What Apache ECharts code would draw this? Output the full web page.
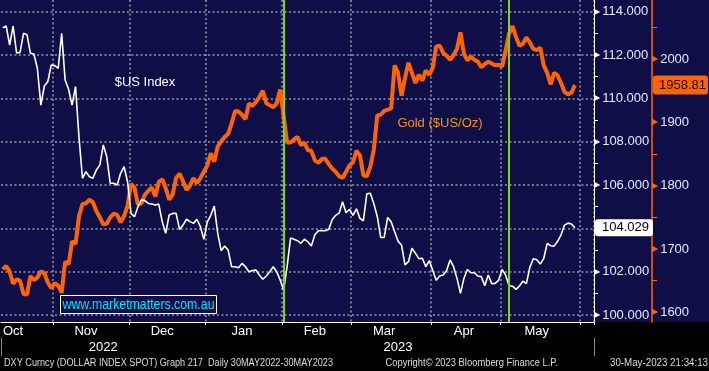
<!DOCTYPE html>
<html><head><meta charset="utf-8">
<script src="https://cdn.jsdelivr.net/npm/echarts@6/dist/echarts.min.js"></script>
<style>html,body{margin:0;padding:0;background:#000;overflow:hidden}#c{width:709px;height:371px}</style>
</head><body><div id="c"></div>
<script>
// ---- data ----
const dxyValues = [
113.26,113.34,112.46,113.34,112.10,112.12,113.00,112.94,112.08,112.05,
111.38,109.69,110.57,110.77,111.54,111.51,111.38,113.00,110.85,110.42,
109.69,110.54,108.20,106.31,106.62,106.38,106.31,106.69,106.92,107.85,
107.31,106.08,106.08,106.00,106.54,106.85,106.15,104.69,104.54,105.00,
105.31,105.28,105.15,105.12,105.08,105.12,104.30,103.77,104.62,104.69,
104.69,103.95,104.15,104.42,104.31,104.23,104.42,104.08,103.49,104.30,
104.60,105.03,103.77,102.97,103.18,103.00,102.23,102.23,102.18,102.38,
102.23,102.00,102.05,102.08,101.85,101.65,101.80,102.00,102.23,102.00,
101.62,101.15,102.23,103.55,103.50,103.43,103.31,103.50,103.38,103.18,
103.70,103.89,103.89,103.89,103.95,104.40,104.60,104.70,105.23,104.72,
104.88,104.60,104.90,104.46,104.35,105.60,105.62,105.15,104.55,103.58,
103.58,104.50,104.30,103.85,103.40,103.23,102.31,102.46,103.08,102.85,
102.60,102.62,102.23,102.51,102.05,101.60,101.80,101.85,102.05,102.54,
102.23,101.69,101.00,101.70,102.10,101.95,101.95,101.80,101.77,101.35,
101.85,101.45,101.46,101.60,102.10,101.85,101.35,101.33,101.18,101.34,
101.56,101.45,102.20,102.60,102.55,102.35,102.60,103.30,103.20,103.18,
103.40,103.70,104.15,104.24,104.20,104.029];
const goldValues = [
1668,1673,1664,1645,1652,1650,1629,1628,1657,1651,
1655,1665,1662,1647,1638,1646,1642,1631,1680,1676,
1712,1708,1752,1771,1772,1778,1774,1760,1750,1739,
1740,1750,1756,1754,1742,1752,1768,1803,1797,1770,
1772,1786,1792,1797,1783,1806,1810,1796,1778,1786,
1812,1819,1807,1793,1800,1812,1804,1812,1822,1832,
1851,1838,1862,1870,1877,1882,1898,1918,1917,1912,
1905,1930,1926,1932,1940,1950,1930,1927,1924,1930,
1952,1910,1868,1868,1873,1877,1864,1868,1856,1855,
1840,1836,1842,1843,1834,1827,1822,1815,1812,1822,
1832,1837,1855,1848,1816,1815,1830,1857,1911,1912,
1918,1920,1922,1990,1978,1942,1970,1994,1978,1962,
1975,1966,1982,1975,1986,2020,2021,2010,2005,1999,
2006,2016,2042,2008,1998,2004,1999,1996,1987,1992,
1996,1993,1990,1991,1988,2013,2040,2052,2035,2021,
2024,2034,2026,2016,2014,2018,1990,1978,1960,1978,
1974,1962,1948,1944,1947,1958.81];
const dxyTicks = [100,102,104,106,108,110,112,114];
const dxyMinorTicks = [101,103,105,107,109,111,113];
const goldTicks = [1600,1700,1800,1900,2000];
const goldMinorTicks = [1650,1750,1850,1950,2050];
const monthNames = ['Jan','Feb','Mar','Apr','May','Jun','Jul','Aug','Sep','Oct','Nov','Dec'];
const axisStart = '2022-10-11', axisEnd = '2023-06-06';
const fomcDates = ['2023-02-01','2023-05-03'];
const seriesNames = ['$US Index','Gold ($US/Oz)'];
const watermark = 'www.marketmatters.com.au';
const footer = ['DXY Curncy (DOLLAR INDEX SPOT) Graph 217  Daily 30MAY2022-30MAY2023',
                'Copyright\u00A9 2023 Bloomberg Finance L.P.','30-May-2023 21:34:13'];

// ---- categories (weekdays) ----
function weekdays(a,b){const out=[];let d=new Date(a+'T00:00:00Z');const e=new Date(b+'T00:00:00Z');
  while(d<=e){const w=d.getUTCDay();if(w!==0&&w!==6)out.push(d.toISOString().slice(0,10));d=new Date(d.getTime()+86400000);}return out;}
const dates = weekdays(axisStart, axisEnd);
const monthStart = new Set();
dates.forEach((d,i)=>{if(i>0&&d.slice(0,7)!==dates[i-1].slice(0,7))monthStart.add(i);});
const monthLabelIdx = {}; const seenM = new Set();
dates.forEach((d,i)=>{const ym=d.slice(0,7);if(!seenM.has(ym)&&+d.slice(8)>=14){seenM.add(ym);monthLabelIdx[i]=monthNames[+d.slice(5,7)-1];}});
const yr = {};
dates.forEach((d,i)=>{const y=d.slice(0,4);if(!yr[y])yr[y]=[i,i];yr[y][1]=i;});
const yearIdx = {}; const yearStart = new Set();
Object.keys(yr).forEach(y=>{const [a,b]=yr[y];yearIdx[Math.floor((a+b)/2)]=y;if(a>0)yearStart.add(a);});

// ---- styling ----
const NAVY='#0f0e47', ORANGE='#ff6400', GRIDC='#9a9aa8', LABEL='#e2e9ff', FONT='"Liberation Sans", Arial, sans-serif';
const dxyMin=99.677, dxyMax=114.54, goldMin=1584.7, goldMax=2093.2;
const gridLine={color:GRIDC,width:1.5,type:[2,2.5]};

const ctx=document.createElement('canvas').getContext('2d');
function fit(t,w,font){ctx.font=font;return w/ctx.measureText(t).width;}
const footerBoxes=[[4,329],[385.5,172.5],[610,98]];
const FOOTFONT='10px "Liberation Sans"', WMFONT='14px "Liberation Sans"';

const chart = echarts.init(document.getElementById('c'), null, {renderer:'canvas'});
chart.setOption({
  animation:false,
  backgroundColor:NAVY,
  grid:{left:0,top:0,width:594,height:322,containLabel:false},
  xAxis:[{
    type:'category',data:dates,boundaryGap:true,
    axisLine:{show:true,lineStyle:{color:'#fff',width:1}},
    axisTick:{show:true,interval:(i)=>monthStart.has(i),length:3,lineStyle:{color:'#fff'}},
    axisLabel:{interval:(i)=>(i in monthLabelIdx),formatter:(v,i)=>monthLabelIdx[i]||'',color:'#fff',fontSize:13,fontFamily:FONT,margin:3},
    splitLine:{show:true,interval:(i)=>monthStart.has(i),lineStyle:gridLine}
  },{
    type:'category',data:dates,boundaryGap:true,position:'bottom',offset:16,
    axisLine:{show:false},
    axisTick:{show:true,interval:(i)=>yearStart.has(i),length:18,lineStyle:{color:'#888'}},
    axisLabel:{interval:(i)=>(i in yearIdx),formatter:(v,i)=>yearIdx[i]||'',color:'#fff',fontSize:13,fontFamily:FONT,margin:3},
    splitLine:{show:false}
  }],
  yAxis:[{
    type:'value',position:'right',min:dxyMin,max:dxyMax,
    axisLine:{show:true,lineStyle:{color:'#fff',width:1}},
    axisTick:{show:false,customValues:dxyTicks},
    axisLabel:{customValues:dxyTicks,margin:0,color:LABEL,fontSize:13,fontFamily:FONT,
      formatter:(v)=>'{t|\u25B6}'+Number(v).toFixed(3),
      rich:{t:{color:'#fff',fontSize:8,fontFamily:'DejaVu Sans',padding:[0,2,0,0]}}},
    splitLine:{show:true,lineStyle:gridLine},
    axisPointer:{show:true,type:'line',value:dxyValues[dxyValues.length-1],status:'show',snap:false,triggerTooltip:false,
      lineStyle:{opacity:0},handle:{show:false},
      label:{show:true,formatter:()=>dxyValues[dxyValues.length-1].toFixed(3),backgroundColor:'#ffffff',color:'#000',
        fontSize:13,fontFamily:FONT,padding:[2,4,2,7],margin:1,borderWidth:0,shadowBlur:0}}
  },{
    type:'value',position:'right',offset:58,min:goldMin,max:goldMax,
    axisLine:{show:true,lineStyle:{color:ORANGE,width:1.5}},
    axisTick:{show:false,customValues:goldTicks},
    axisLabel:{customValues:goldTicks,margin:0,color:LABEL,fontSize:13,fontFamily:FONT,
      formatter:(v)=>'{t|\u25B6}'+v,
      rich:{t:{color:ORANGE,fontSize:8,fontFamily:'DejaVu Sans',padding:[0,2,0,0]}}},
    splitLine:{show:false},
    axisPointer:{show:true,type:'line',value:goldValues[goldValues.length-1],status:'show',snap:false,triggerTooltip:false,
      lineStyle:{opacity:0},handle:{show:false},
      label:{show:true,formatter:()=>goldValues[goldValues.length-1].toFixed(2),backgroundColor:ORANGE,color:'#1a0800',
        fontSize:13,fontFamily:FONT,padding:[3,2,3,6],margin:1,borderWidth:0,shadowBlur:0}}
  },{
    type:'value',position:'right',min:dxyMin,max:dxyMax,
    axisLine:{show:false},axisLabel:{show:false},splitLine:{show:false},
    axisTick:{show:true,customValues:dxyMinorTicks,length:4,lineStyle:{color:'#fff'}}
  },{
    type:'value',position:'right',offset:58,min:goldMin,max:goldMax,
    axisLine:{show:false},axisLabel:{show:false},splitLine:{show:false},
    axisTick:{show:true,customValues:goldMinorTicks,length:5,lineStyle:{color:ORANGE}}
  }],
  series:[{
    name:seriesNames[1],type:'line',xAxisIndex:0,yAxisIndex:1,data:goldValues,symbol:'none',
    lineStyle:{color:ORANGE,width:4},itemStyle:{color:ORANGE},z:2
  },{
    name:seriesNames[0],type:'line',xAxisIndex:0,yAxisIndex:0,data:dxyValues,symbol:'none',
    lineStyle:{color:'#ffffff',width:1.6},itemStyle:{color:'#fff'},z:3,
    markLine:{symbol:'none',silent:true,label:{show:false},
      lineStyle:{color:'#80d41c',width:2,type:'solid'},
      data:fomcDates.map(d=>({xAxis:d}))}
  }],
  graphic:[
    {type:'rect',z:-1,silent:true,shape:{x:0,y:322,width:709,height:49},style:{fill:'#000'}},
    {type:'text',x:145,y:82,z:10,style:{text:seriesNames[0],fill:'#ffffff',font:'13px '+FONT,align:'center',textAlign:'center',verticalAlign:'middle',textVerticalAlign:'middle'}},
    {type:'text',x:440,y:123,z:10,style:{text:seriesNames[1],fill:'#f39020',font:'13px '+FONT,align:'center',textAlign:'center',verticalAlign:'middle',textVerticalAlign:'middle'}},
    {type:'rect',z:20,shape:{x:60.5,y:295.5,width:156,height:18},style:{fill:NAVY,stroke:'#ffffff',lineWidth:1}},
    {type:'text',x:138.5,y:305,z:21,scaleX:fit(watermark,152,WMFONT),style:{text:watermark,fill:'#00e3f0',font:WMFONT,align:'center',textAlign:'center',verticalAlign:'middle',textVerticalAlign:'middle'}}
  ].concat(footer.map((t,k)=>({type:'text',x:footerBoxes[k][0],y:363,z:10,scaleX:fit(t,footerBoxes[k][1],FOOTFONT),
     style:{text:t,fill:'#dcdcdc',font:FOOTFONT,align:'left',textAlign:'left',verticalAlign:'middle',textVerticalAlign:'middle'}})))
});
</script></body></html>
